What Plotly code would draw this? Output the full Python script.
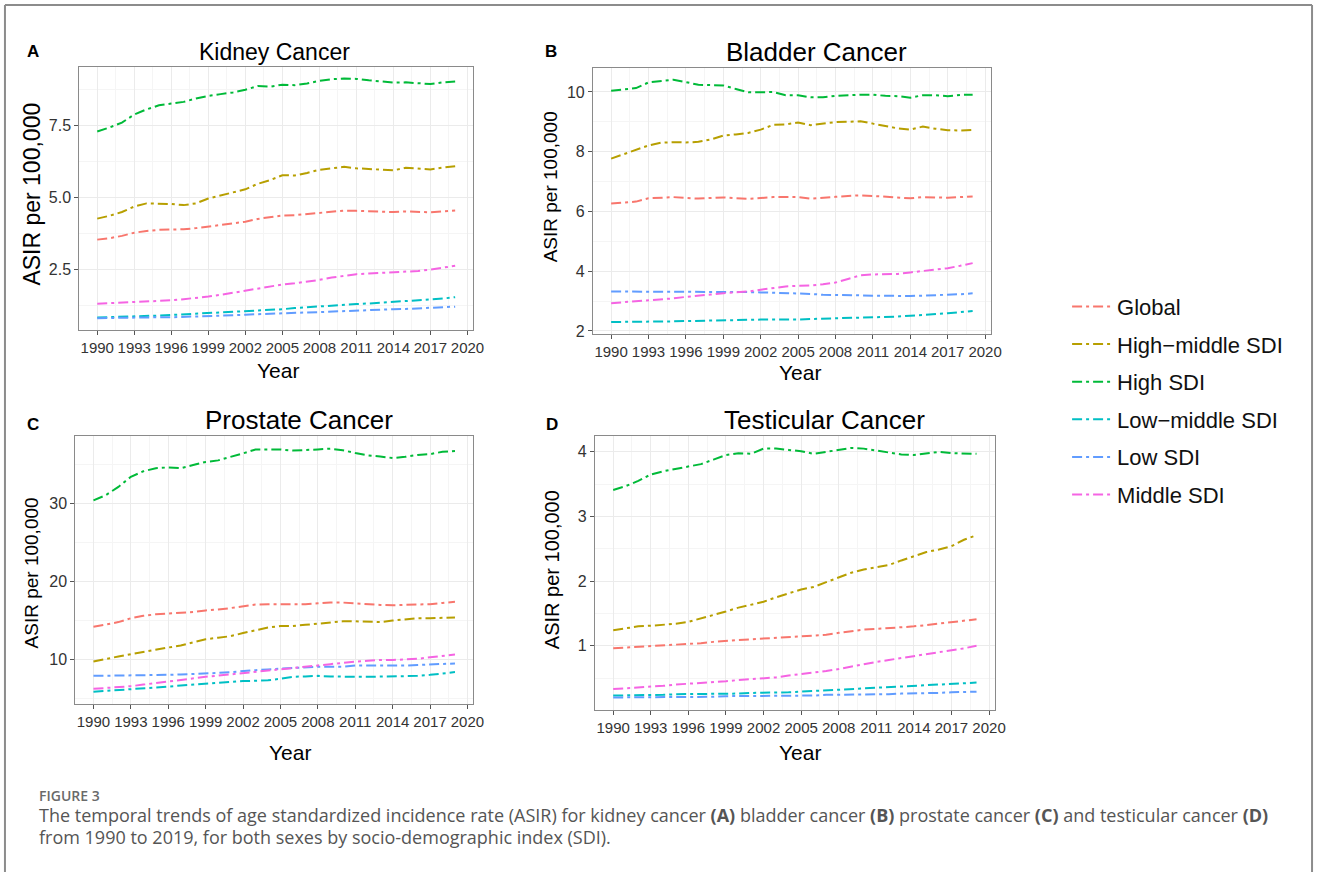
import plotly.graph_objects as go

W, H = 1328, 877

years = list(range(1990, 2020))
series_names = ["Global", "High\u2212middle SDI", "High SDI", "Low\u2212middle SDI", "Low SDI", "Middle SDI"]
series_colors = ["#F8766D", "#B79F00", "#00BA38", "#00BFC4", "#619CFF", "#F564E3"]
x_tick_step = 3

# ---------------- Kidney cancer (A) ----------------
kidney_global = [3.53, 3.58, 3.66, 3.77, 3.83, 3.87, 3.88, 3.89, 3.93, 3.99, 4.04, 4.09, 4.15, 4.25, 4.31,
                 4.37, 4.38, 4.42, 4.47, 4.51, 4.54, 4.53, 4.52, 4.50, 4.49, 4.51, 4.50, 4.48, 4.51, 4.54]
kidney_high_middle = [4.26, 4.36, 4.49, 4.68, 4.79, 4.79, 4.77, 4.73, 4.79, 4.96, 5.07, 5.16, 5.28, 5.47, 5.60,
                      5.77, 5.76, 5.85, 5.96, 6.01, 6.06, 6.01, 5.98, 5.96, 5.94, 6.03, 6.01, 5.97, 6.04, 6.08]
kidney_high = [7.29, 7.43, 7.60, 7.88, 8.06, 8.20, 8.26, 8.32, 8.44, 8.53, 8.59, 8.65, 8.74, 8.87, 8.85,
               8.92, 8.90, 8.96, 9.05, 9.11, 9.13, 9.12, 9.07, 9.04, 8.99, 9.00, 8.98, 8.94, 9.00, 9.03]
kidney_low_middle = [0.82, 0.83, 0.85, 0.86, 0.88, 0.89, 0.91, 0.93, 0.95, 0.98, 1.00, 1.03, 1.05, 1.07, 1.09,
                     1.11, 1.15, 1.18, 1.22, 1.24, 1.27, 1.29, 1.31, 1.34, 1.36, 1.39, 1.41, 1.44, 1.48, 1.53]
kidney_low = [0.80, 0.81, 0.81, 0.82, 0.82, 0.83, 0.83, 0.84, 0.85, 0.86, 0.88, 0.90, 0.92, 0.94, 0.96,
              0.98, 0.99, 1.00, 1.01, 1.03, 1.04, 1.06, 1.07, 1.09, 1.11, 1.12, 1.14, 1.15, 1.17, 1.20]
kidney_middle = [1.30, 1.32, 1.34, 1.36, 1.37, 1.39, 1.42, 1.46, 1.50, 1.55, 1.61, 1.68, 1.75, 1.84, 1.91,
                 1.97, 2.01, 2.06, 2.13, 2.21, 2.28, 2.33, 2.35, 2.37, 2.41, 2.43, 2.44, 2.49, 2.55, 2.62]

# ---------------- Bladder cancer (B) ----------------
bladder_global = [6.27, 6.30, 6.33, 6.44, 6.47, 6.48, 6.45, 6.43, 6.45, 6.47, 6.44, 6.42, 6.45, 6.48, 6.48,
                  6.48, 6.43, 6.45, 6.49, 6.52, 6.54, 6.52, 6.49, 6.46, 6.44, 6.48, 6.47, 6.46, 6.48, 6.50]
bladder_high_middle = [7.77, 7.91, 8.06, 8.21, 8.30, 8.32, 8.31, 8.33, 8.41, 8.54, 8.58, 8.63, 8.74, 8.90, 8.91,
                       8.98, 8.89, 8.93, 8.99, 9.00, 9.02, 8.94, 8.87, 8.78, 8.74, 8.84, 8.77, 8.72, 8.71, 8.73]
bladder_high = [10.04, 10.08, 10.13, 10.32, 10.36, 10.41, 10.33, 10.24, 10.23, 10.22, 10.10, 9.99, 9.99, 10.00, 9.89,
                9.89, 9.82, 9.82, 9.87, 9.90, 9.91, 9.91, 9.87, 9.86, 9.81, 9.89, 9.89, 9.86, 9.90, 9.91]
bladder_low_middle = [2.30, 2.30, 2.31, 2.32, 2.32, 2.32, 2.33, 2.34, 2.35, 2.37, 2.37, 2.38, 2.38, 2.38, 2.37,
                      2.38, 2.40, 2.41, 2.43, 2.43, 2.43, 2.44, 2.45, 2.48, 2.51, 2.53, 2.56, 2.59, 2.63, 2.67]
bladder_low = [3.32, 3.32, 3.32, 3.32, 3.32, 3.32, 3.32, 3.32, 3.32, 3.30, 3.30, 3.30, 3.29, 3.28, 3.28,
               3.27, 3.24, 3.21, 3.21, 3.20, 3.19, 3.18, 3.17, 3.17, 3.17, 3.18, 3.19, 3.20, 3.23, 3.26]
bladder_middle = [2.93, 2.96, 3.00, 3.04, 3.07, 3.09, 3.14, 3.17, 3.22, 3.26, 3.29, 3.32, 3.38, 3.43, 3.49,
                  3.51, 3.52, 3.56, 3.62, 3.74, 3.86, 3.89, 3.90, 3.91, 3.96, 4.00, 4.04, 4.10, 4.18, 4.27]

# ---------------- Prostate cancer (C) ----------------
prostate_global = [14.2, 14.5, 14.8, 15.3, 15.6, 15.8, 15.9, 15.95, 16.1, 16.3, 16.4, 16.6, 16.8, 17.05, 17.1,
                   17.1, 17.1, 17.1, 17.2, 17.3, 17.3, 17.2, 17.05, 17.0, 16.96, 17.0, 17.05, 17.1, 17.25, 17.4]
prostate_high_middle = [9.75, 10.1, 10.4, 10.7, 11.0, 11.3, 11.55, 11.8, 12.2, 12.6, 12.8, 13.0, 13.4, 13.8, 14.1,
                        14.3, 14.3, 14.45, 14.6, 14.75, 14.9, 14.9, 14.85, 14.8, 15.0, 15.15, 15.3, 15.3, 15.35, 15.4]
prostate_high = [30.38, 31.06, 32.1, 33.4, 34.1, 34.5, 34.6, 34.5, 34.9, 35.3, 35.5, 35.9, 36.4, 36.9, 36.9,
                 36.9, 36.75, 36.8, 36.9, 37.0, 36.8, 36.45, 36.15, 36.0, 35.8, 35.95, 36.2, 36.3, 36.6, 36.7]
prostate_low_middle = [5.88, 5.98, 6.08, 6.2, 6.35, 6.45, 6.55, 6.68, 6.8, 6.9, 7.02, 7.14, 7.25, 7.3, 7.35,
                       7.55, 7.8, 7.85, 7.92, 7.85, 7.8, 7.8, 7.8, 7.82, 7.85, 7.88, 7.92, 8.05, 8.2, 8.4]
prostate_low = [7.92, 7.93, 7.95, 7.96, 7.98, 8.0, 8.05, 8.1, 8.15, 8.2, 8.3, 8.4, 8.55, 8.65, 8.75,
                8.85, 8.95, 9.0, 9.1, 9.1, 9.1, 9.25, 9.25, 9.2, 9.2, 9.25, 9.3, 9.4, 9.45, 9.5]
prostate_middle = [6.26, 6.36, 6.48, 6.6, 6.8, 7.0, 7.2, 7.45, 7.62, 7.8, 7.95, 8.1, 8.3, 8.45, 8.6,
                   8.78, 8.95, 9.1, 9.25, 9.42, 9.6, 9.75, 9.85, 9.95, 9.95, 10.02, 10.1, 10.3, 10.48, 10.65]

# ---------------- Testicular cancer (D) ----------------
testicular_global = [0.96, 0.97, 0.99, 1.00, 1.01, 1.02, 1.03, 1.04, 1.06, 1.08, 1.09, 1.10, 1.11, 1.12, 1.13,
                     1.14, 1.15, 1.17, 1.20, 1.23, 1.25, 1.26, 1.27, 1.28, 1.30, 1.32, 1.34, 1.36, 1.38, 1.41]
testicular_high_middle = [1.24, 1.27, 1.30, 1.31, 1.32, 1.34, 1.37, 1.42, 1.47, 1.53, 1.59, 1.63, 1.68, 1.75, 1.81,
                          1.87, 1.91, 1.98, 2.05, 2.13, 2.18, 2.21, 2.25, 2.32, 2.39, 2.45, 2.49, 2.54, 2.64, 2.71]
testicular_high = [3.41, 3.47, 3.55, 3.65, 3.70, 3.74, 3.78, 3.81, 3.88, 3.95, 3.98, 3.97, 4.05, 4.05, 4.03,
                   4.01, 3.97, 4.00, 4.04, 4.06, 4.05, 4.02, 3.98, 3.96, 3.95, 3.97, 4.00, 3.98, 3.98, 3.97]
testicular_low_middle = [0.23, 0.23, 0.24, 0.24, 0.24, 0.25, 0.25, 0.25, 0.26, 0.26, 0.26, 0.27, 0.27, 0.28, 0.28,
                         0.29, 0.30, 0.31, 0.32, 0.33, 0.34, 0.35, 0.36, 0.36, 0.37, 0.38, 0.39, 0.41, 0.42, 0.43]
testicular_low = [0.20, 0.20, 0.20, 0.20, 0.21, 0.21, 0.21, 0.21, 0.21, 0.22, 0.22, 0.22, 0.22, 0.22, 0.23,
                  0.23, 0.23, 0.24, 0.24, 0.24, 0.25, 0.25, 0.25, 0.26, 0.26, 0.27, 0.27, 0.28, 0.28, 0.29]
testicular_middle = [0.33, 0.34, 0.35, 0.36, 0.38, 0.40, 0.41, 0.43, 0.44, 0.45, 0.47, 0.48, 0.49, 0.51, 0.54,
                     0.56, 0.59, 0.61, 0.64, 0.68, 0.72, 0.75, 0.78, 0.81, 0.83, 0.86, 0.90, 0.92, 0.96, 1.00]

panel_titles = ["Kidney Cancer", "Bladder Cancer", "Prostate Cancer", "Testicular Cancer"]
panel_letters = ["A", "B", "C", "D"]
y_axis_label = "ASIR per 100,000"
x_axis_label = "Year"
y_major_steps = [2.5, 2, 10, 1]
y_tick_formats = [".1f", "d", "d", "d"]

panel_series = [
    [kidney_global, kidney_high_middle, kidney_high, kidney_low_middle, kidney_low, kidney_middle],
    [bladder_global, bladder_high_middle, bladder_high, bladder_low_middle, bladder_low, bladder_middle],
    [prostate_global, prostate_high_middle, prostate_high, prostate_low_middle, prostate_low, prostate_middle],
    [testicular_global, testicular_high_middle, testicular_high, testicular_low_middle, testicular_low, testicular_middle],
]

# ---------------- layout (pixel geometry) ----------------
def fx(px):
    return px / W

def fy(py):
    return 1 - py / H

# plot boxes: left, right, top, bottom (pixels)
boxes = [(80, 477, 67, 332), (598, 999, 68, 336), (76, 477, 439, 708), (600, 1003, 438, 714)]
title_pos = [(277, 52, 23), (823, 52, 26), (301, 422, 26), (831, 422, 26)]
letter_pos = [(33, 52), (556, 52), (33, 427), (557, 427)]
ylab_pos = [(32, 195, 23), (556, 188, 19), (32, 576, 19), (556, 573, 20)]
xlab_pos = [(280, 373, 21), (807, 375, 21), (292, 757, 21), (807, 757, 21)]

FONT = "Liberation Sans, Arial, sans-serif"
DASH = "10px,4px,3px,4px"

fig = go.Figure()
layout_axes = {}
annotations = []

for p in range(4):
    xa = "x" if p == 0 else f"x{p+1}"
    ya = "y" if p == 0 else f"y{p+1}"
    for s, vals in enumerate(panel_series[p]):
        fig.add_trace(go.Scatter(
            x=years, y=vals, mode="lines", name=series_names[s],
            legendgroup=series_names[s], showlegend=(p == 0),
            line=dict(color=series_colors[s], width=2, dash=DASH),
            xaxis=xa, yaxis=ya, hoverinfo="skip"))
    allv = [v for ser in panel_series[p] for v in ser]
    lo, hi = min(allv), max(allv)
    pad = 0.05 * (hi - lo)
    xpad = 0.05 * (years[-1] - years[0])
    l, r, t, b = boxes[p]
    xkey = "xaxis" if p == 0 else f"xaxis{p+1}"
    ykey = "yaxis" if p == 0 else f"yaxis{p+1}"
    layout_axes[xkey] = dict(
        domain=[fx(l), fx(r)], anchor=ya, range=[years[0] - xpad, years[-1] + xpad],
        tick0=1990, dtick=x_tick_step, tickangle=0,
        showgrid=True, gridcolor="#EBEBEB", gridwidth=1.2,
        minor=dict(dtick=x_tick_step / 2, tick0=1990, showgrid=True, gridcolor="#F5F5F5", gridwidth=0.8, ticklen=0),
        showline=True, linecolor="#8a8a8a", linewidth=1.2, mirror=True,
        ticks="outside", ticklen=4, tickcolor="#555", tickwidth=1,
        tickfont=dict(family=FONT, size=15, color="#333"), zeroline=False)
    step = y_major_steps[p]
    layout_axes[ykey] = dict(
        domain=[fy(b), fy(t)], anchor=xa, range=[lo - pad, hi + pad],
        tick0=0, dtick=step, tickformat=y_tick_formats[p],
        showgrid=True, gridcolor="#EBEBEB", gridwidth=1.2,
        minor=dict(dtick=step / 2, tick0=0, showgrid=True, gridcolor="#F5F5F5", gridwidth=0.8, ticklen=0),
        showline=True, linecolor="#8a8a8a", linewidth=1.2, mirror=True,
        ticks="outside", ticklen=4, tickcolor="#555", tickwidth=1,
        tickfont=dict(family=FONT, size=16, color="#333"), zeroline=False)

    tx, ty, ts = title_pos[p]
    annotations.append(dict(text=panel_titles[p], x=fx(tx), y=fy(ty), xref="paper", yref="paper",
                            xanchor="center", yanchor="middle", showarrow=False,
                            font=dict(family=FONT, size=ts, color="#000")))
    lx, ly = letter_pos[p]
    annotations.append(dict(text=f"<b>{panel_letters[p]}</b>", x=fx(lx), y=fy(ly), xref="paper", yref="paper",
                            xanchor="center", yanchor="middle", showarrow=False,
                            font=dict(family=FONT, size=17, color="#000")))
    yx, yy, ys = ylab_pos[p]
    annotations.append(dict(text=y_axis_label, x=fx(yx), y=fy(yy), xref="paper", yref="paper",
                            xanchor="center", yanchor="middle", showarrow=False, textangle=-90,
                            font=dict(family=FONT, size=ys, color="#000")))
    xx, xy, xs = xlab_pos[p]
    annotations.append(dict(text=x_axis_label, x=fx(xx), y=fy(xy), xref="paper", yref="paper",
                            xanchor="center", yanchor="middle", showarrow=False,
                            font=dict(family=FONT, size=xs, color="#000")))

# caption
CAP = "Open Sans, Noto Sans, sans-serif"
annotations.append(dict(text="FIGURE 3", x=fx(37), y=fy(800), xref="paper", yref="paper",
                        xanchor="left", yanchor="middle", showarrow=False,
                        font=dict(family=CAP, size=14, color="#6a6a6a", weight=600)))
annotations.append(dict(
    text="The temporal trends of age standardized incidence rate (ASIR) for kidney cancer <b>(A)</b> bladder cancer "
         "<b>(B)</b> prostate cancer <b>(C)</b> and testicular cancer <b>(D)</b>",
    x=fx(37), y=fy(820), xref="paper", yref="paper", xanchor="left", yanchor="middle", showarrow=False,
    font=dict(family=CAP, size=18, color="#555")))
annotations.append(dict(
    text="from 1990 to 2019, for both sexes by socio-demographic index (SDI).",
    x=fx(37), y=fy(842), xref="paper", yref="paper", xanchor="left", yanchor="middle", showarrow=False,
    font=dict(family=CAP, size=18, color="#555")))

frame = dict(color="#8c8c8c", width=2)
shapes = [
    dict(type="line", xref="paper", yref="paper", x0=fx(5), x1=fx(5), y0=0, y1=fy(5), line=frame),
    dict(type="line", xref="paper", yref="paper", x0=fx(5), x1=fx(1323), y0=fy(5), y1=fy(5), line=frame),
    dict(type="line", xref="paper", yref="paper", x0=fx(1323), x1=fx(1323), y0=0, y1=fy(5), line=frame),
]

fig.update_layout(
    width=W, height=H, margin=dict(l=0, r=0, t=0, b=0),
    paper_bgcolor="white", plot_bgcolor="white",
    showlegend=True,
    legend=dict(x=fx(1076), y=fy(403), xanchor="left", yanchor="middle",
                font=dict(family=FONT, size=22, color="#111"),
                tracegroupgap=6, itemwidth=40, bgcolor="rgba(0,0,0,0)"),
    annotations=annotations, shapes=shapes,
    **layout_axes,
)

fig.write_html("out.html")
